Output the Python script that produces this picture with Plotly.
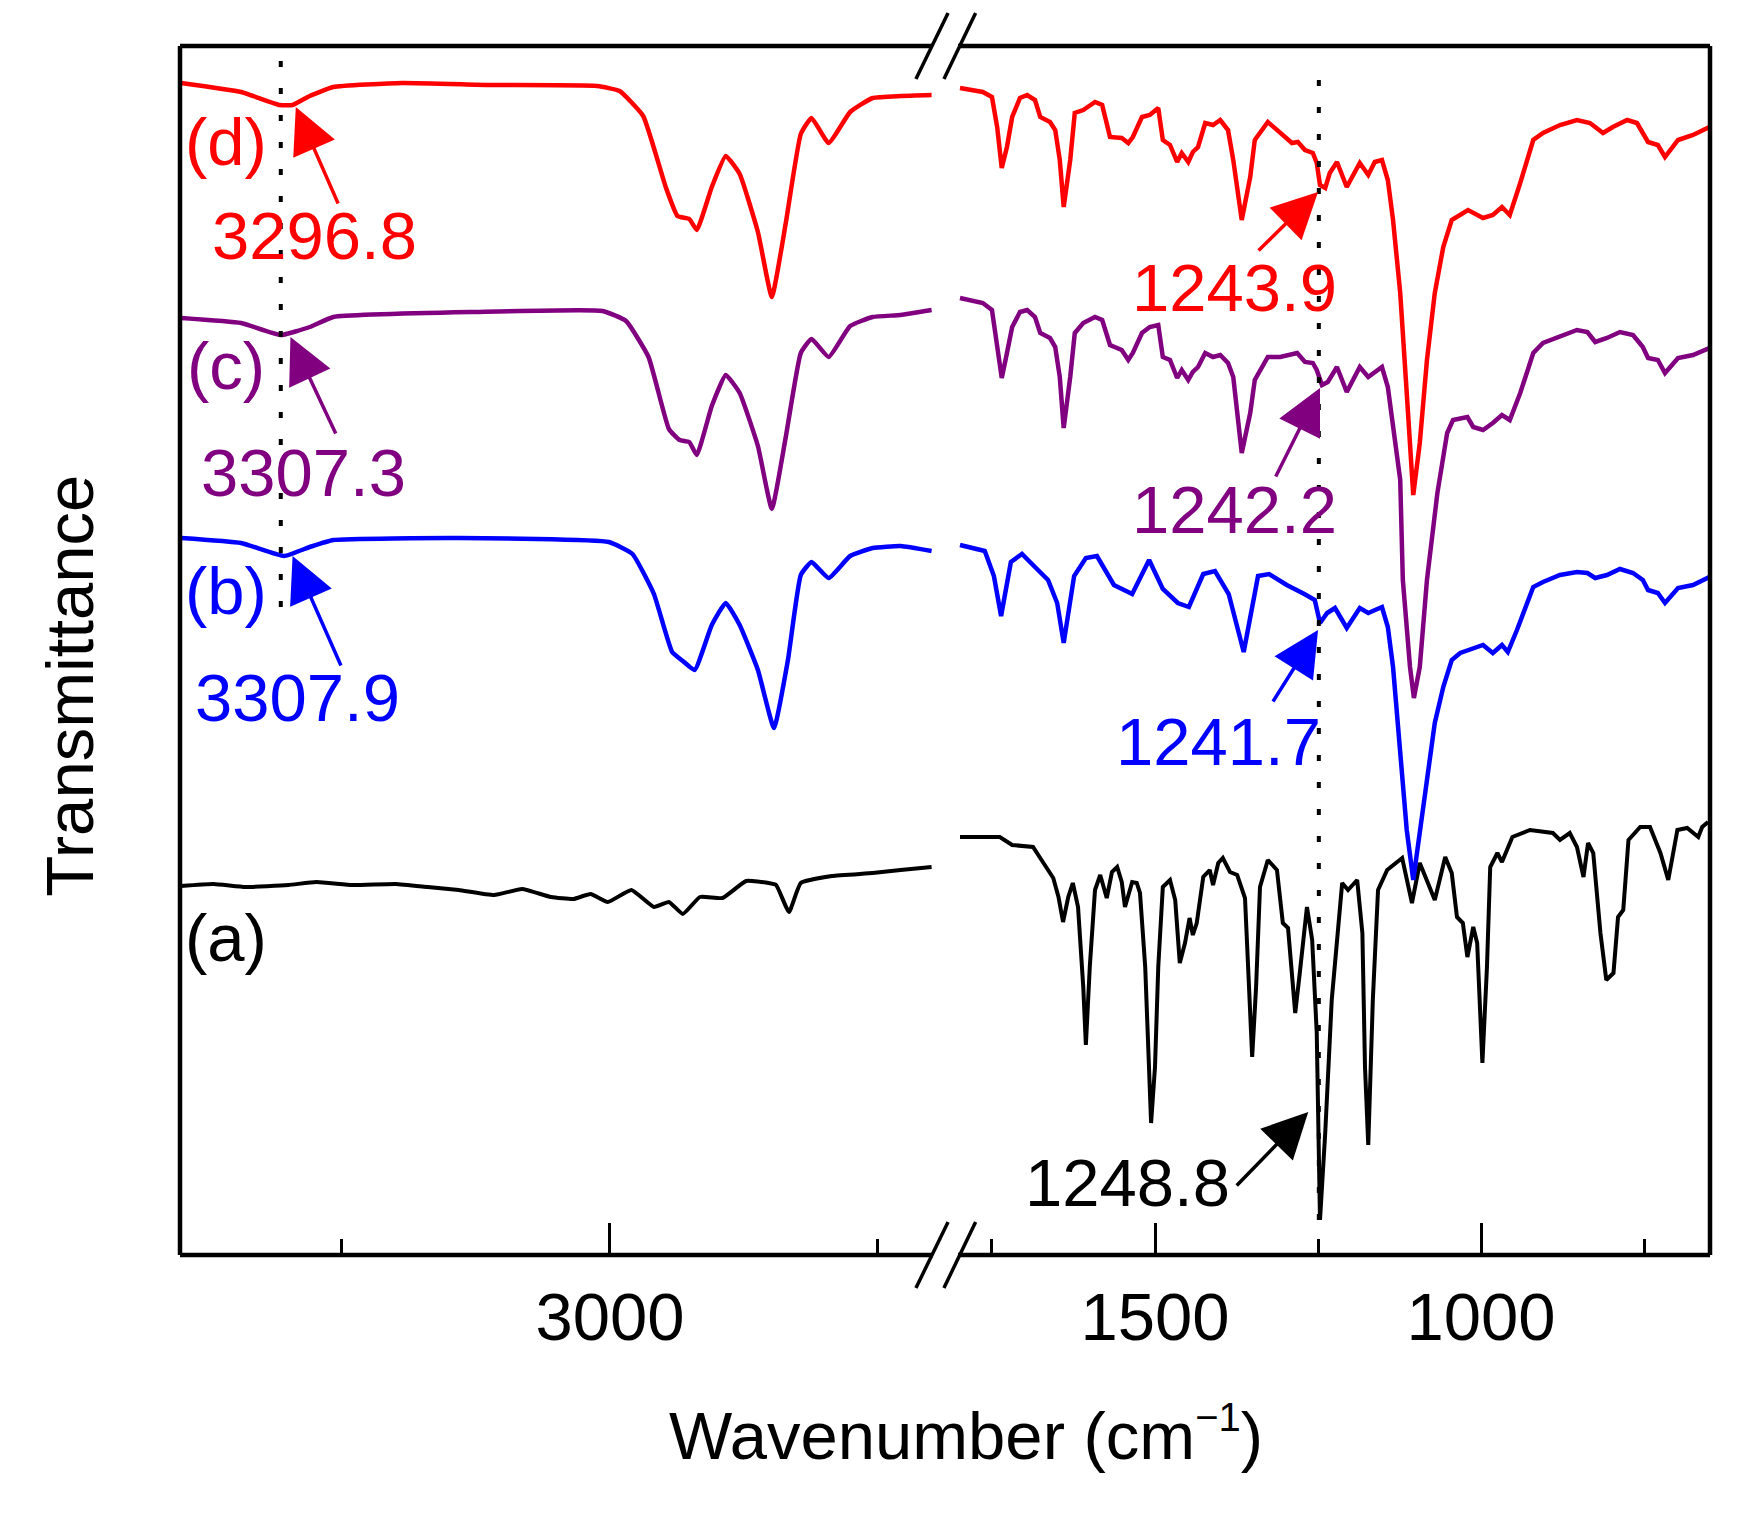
import plotly.graph_objects as go

# FTIR spectra; transmittance in arbitrary offset units
# high-wavenumber segment (3400-2700 cm-1)
WN_HI_D = [3400, 3344, 3308, 3296, 3280, 3258, 3194, 3114, 3012, 2991, 2969, 2948, 2937, 2926,
           2919, 2905, 2892, 2879, 2862, 2849, 2836, 2822, 2812, 2796, 2776, 2755, 2729, 2700]
T_HI_D = [117.2, 116.3, 115.0, 115.0, 115.9, 116.8, 117.2, 117.0, 116.9, 116.4, 113.9, 106.8, 103.9, 103.6,
          102.5, 106.8, 109.9, 108.1, 102.3, 95.8, 103.2, 112.1, 113.7, 111.2, 114.3, 115.7, 115.9, 116.0]

WN_HI_C = [3400, 3344, 3307, 3280, 3258, 3125, 3007, 2985, 2964, 2945, 2935, 2926, 2919,
           2905, 2892, 2879, 2862, 2849, 2836, 2822, 2812, 2796, 2776, 2755, 2729, 2700]
T_HI_C = [93.7, 93.2, 92.0, 92.8, 93.8, 94.3, 94.4, 93.4, 89.8, 82.6, 81.5, 81.3, 80.0,
          84.9, 88.0, 86.2, 80.9, 74.6, 81.8, 90.2, 91.6, 89.8, 92.9, 93.8, 94.0, 94.5]

WN_HI_B = [3400, 3344, 3304, 3280, 3258, 3141, 3001, 2979, 2959, 2942, 2932, 2921, 2905,
           2892, 2879, 2862, 2847, 2834, 2822, 2812, 2796, 2776, 2755, 2729, 2700]
T_HI_B = [71.7, 71.2, 69.9, 70.8, 71.5, 71.7, 71.3, 70.1, 66.1, 60.3, 59.4, 58.5, 63.0,
          65.2, 63.0, 58.5, 52.7, 59.5, 68.0, 69.3, 67.7, 69.9, 70.7, 70.9, 70.4]

WN_HI_A = [3400, 3370, 3340, 3300, 3274, 3240, 3200, 3170, 3141, 3108, 3082, 3055, 3034, 3018, 3002,
           2980, 2959, 2945, 2932, 2916, 2895, 2873, 2852, 2845, 2833, 2822, 2793, 2755, 2729, 2700]
T_HI_A = [36.9, 37.1, 36.8, 37.0, 37.3, 37.0, 37.1, 36.8, 36.5, 36.0, 36.6, 35.8, 35.6, 36.1, 35.3,
          36.5, 34.8, 35.3, 34.1, 35.8, 35.7, 37.4, 37.2, 37.0, 34.3, 37.2, 37.9, 38.2, 38.5, 38.8]

# low-wavenumber segment (1800-650 cm-1)
WN_LO_D = [1799, 1764, 1750, 1742, 1735, 1727, 1719, 1707, 1696, 1684, 1676, 1661, 1653, 1646, 1640,
           1630, 1623, 1610, 1592, 1581, 1569, 1551, 1541, 1534, 1520, 1508, 1495, 1488, 1477, 1466,
           1459, 1449, 1442, 1434, 1423, 1411, 1400, 1388, 1380, 1367, 1354, 1347, 1327, 1308, 1290,
           1281, 1270, 1258, 1252, 1247, 1239, 1232, 1221, 1206, 1186, 1173, 1163, 1152, 1143, 1135,
           1124, 1114, 1104, 1094, 1083, 1071, 1058, 1045, 1032, 1020, 997, 982, 968, 956, 940,
           920, 905, 879, 853, 833, 813, 798, 776, 761, 744, 729, 718, 698, 675, 650]
T_LO_D = [116.7, 116.3, 115.8, 112.8, 108.7, 110.8, 113.8, 115.7, 116.0, 115.5, 113.8, 113.3, 112.5, 109.5, 104.8,
          109.5, 114.2, 114.5, 115.3, 115.0, 111.8, 111.7, 111.2, 111.8, 113.8, 114.0, 114.7, 111.5, 111.0, 109.3,
          110.2, 109.3, 110.3, 110.8, 113.2, 113.0, 113.5, 112.5, 109.5, 103.5, 107.8, 111.5, 113.3, 112.2, 111.2,
          111.3, 110.5, 110.2, 109.2, 107.0, 106.7, 108.2, 109.3, 106.8, 109.2, 108.0, 109.3, 109.5, 107.5, 103.5,
          96.2, 86.2, 76.0, 81.2, 89.5, 96.2, 100.8, 103.5, 104.0, 104.5, 103.7, 104.0, 104.8, 104.0, 107.2,
          111.5, 112.2, 113.0, 113.5, 113.2, 112.2, 112.8, 113.5, 113.2, 111.3, 111.0, 109.8, 111.5, 112.0, 112.8]

WN_LO_C = [1799, 1764, 1750, 1742, 1735, 1727, 1719, 1707, 1696, 1684, 1676, 1661, 1653, 1646, 1640,
           1630, 1623, 1610, 1592, 1581, 1569, 1551, 1541, 1534, 1520, 1508, 1495, 1488, 1477, 1466,
           1459, 1449, 1442, 1434, 1423, 1411, 1400, 1388, 1380, 1367, 1354, 1347, 1327, 1308, 1282,
           1270, 1258, 1252, 1244, 1235, 1221, 1206, 1186, 1173, 1152, 1143, 1135, 1124, 1120, 1109,
           1103, 1094, 1083, 1071, 1067, 1052, 1043, 1021, 1012, 997, 982, 968, 956, 940, 920,
           905, 879, 853, 837, 825, 807, 787, 767, 752, 744, 729, 718, 698, 675, 650]
T_LO_C = [95.7, 95.2, 94.5, 91.2, 87.7, 90.2, 92.8, 94.3, 94.5, 93.8, 92.2, 91.7, 90.8, 87.8, 82.7,
          87.8, 92.2, 93.2, 93.8, 93.5, 91.0, 90.5, 89.5, 90.2, 92.2, 92.8, 93.0, 89.8, 89.5, 87.7,
          88.5, 87.5, 88.3, 88.8, 90.2, 89.8, 90.0, 89.2, 87.8, 80.2, 84.2, 87.5, 89.8, 89.8, 90.2,
          89.3, 89.2, 88.5, 87.0, 87.3, 88.8, 86.3, 88.8, 87.8, 88.8, 86.8, 82.8, 77.5, 67.5, 58.8,
          55.7, 58.8, 67.5, 74.5, 76.2, 82.2, 83.5, 83.8, 82.8, 82.5, 83.2, 84.0, 83.5, 86.2, 90.2,
          91.2, 91.8, 92.5, 92.3, 91.3, 91.7, 92.3, 92.0, 90.8, 89.7, 89.5, 88.2, 89.7, 90.0, 90.7]

WN_LO_B = [1799, 1761, 1747, 1736, 1721, 1704, 1681, 1664, 1650, 1640, 1624, 1606, 1589, 1563, 1535,
           1509, 1488, 1465, 1448, 1426, 1408, 1387, 1364, 1342, 1325, 1298, 1271, 1255, 1247, 1236,
           1224, 1206, 1186, 1173, 1152, 1143, 1135, 1124, 1114, 1104, 1094, 1083, 1071, 1058, 1045,
           1032, 1012, 997, 982, 968, 959, 945, 920, 905, 879, 853, 837, 825, 807, 787,
           767, 752, 744, 729, 718, 698, 675, 650]
T_LO_B = [71.0, 70.4, 67.9, 63.9, 69.3, 70.1, 68.6, 67.5, 65.2, 61.2, 67.9, 69.7, 69.9, 67.0, 66.1,
          69.5, 66.6, 65.2, 64.8, 68.1, 68.4, 66.1, 60.3, 67.9, 68.1, 67.0, 66.1, 65.5, 63.2, 64.2,
          64.7, 62.7, 64.7, 64.2, 64.8, 62.8, 58.8, 50.8, 42.5, 37.5, 42.5, 47.5, 53.2, 56.8, 59.5,
          60.2, 60.7, 61.0, 60.2, 61.0, 60.3, 62.5, 66.8, 67.3, 68.0, 68.3, 68.2, 67.7, 68.0, 68.6,
          68.2, 67.5, 66.5, 66.2, 65.2, 66.7, 67.0, 67.8]

WN_LO_A = [1799, 1738, 1719, 1687, 1676, 1656, 1648, 1641, 1633, 1626, 1618, 1610, 1606, 1600, 1592,
           1584, 1574, 1566, 1558, 1551, 1546, 1535, 1528, 1523, 1515, 1506, 1500, 1495, 1488, 1477,
           1469, 1462, 1454, 1447, 1442, 1436, 1426, 1416, 1411, 1403, 1396, 1385, 1374, 1362, 1351,
           1345, 1339, 1327, 1313, 1304, 1296, 1285, 1278, 1267, 1259, 1252, 1247, 1239, 1229, 1216,
           1213, 1204, 1190, 1182, 1178, 1173, 1166, 1158, 1144, 1121, 1106, 1094, 1071, 1055, 1045,
           1037, 1028, 1021, 1012, 1006, 998, 991, 986, 975, 968, 952, 925, 890, 879, 864,
           853, 843, 836, 828, 817, 808, 797, 790, 782, 774, 756, 741, 725, 713, 699,
           684, 667, 661, 652]
T_LO_A = [41.8, 41.8, 41.0, 40.8, 39.7, 37.7, 35.8, 33.3, 35.8, 37.2, 34.8, 26.8, 21.0, 28.8, 36.5,
          38.0, 35.7, 38.3, 38.8, 37.3, 34.8, 37.3, 37.2, 36.2, 28.8, 13.2, 18.8, 28.8, 36.8, 37.5,
          35.5, 29.2, 31.2, 33.7, 32.0, 33.2, 37.8, 38.5, 37.0, 39.2, 39.7, 38.3, 38.0, 35.7, 19.8,
          26.8, 36.8, 39.5, 38.5, 33.2, 32.7, 24.2, 28.2, 34.8, 31.5, 22.2, 3.5, 12.2, 25.5, 34.2,
          37.2, 36.5, 37.5, 32.2, 18.8, 11.0, 25.5, 36.5, 38.5, 39.7, 35.2, 39.2, 35.5, 39.8, 38.2,
          33.8, 33.2, 29.8, 32.8, 31.2, 19.2, 28.8, 38.8, 40.2, 39.3, 41.8, 42.5, 42.2, 41.5, 42.2,
          40.8, 37.8, 41.2, 40.2, 32.2, 27.5, 28.2, 33.8, 34.5, 41.5, 42.8, 42.8, 40.2, 37.5, 42.5,
          42.7, 41.8, 42.8, 43.3]

SERIES = [
    ("(a)", "#000000", WN_HI_A, T_HI_A, WN_LO_A, T_LO_A),
    ("(b)", "#0000FF", WN_HI_B, T_HI_B, WN_LO_B, T_LO_B),
    ("(c)", "#800080", WN_HI_C, T_HI_C, WN_LO_C, T_LO_C),
    ("(d)", "#FF0000", WN_HI_D, T_HI_D, WN_LO_D, T_LO_D),
]

# marked peaks: (text, colour, axis, tip wavenumber, tip transmittance, label x, label y, tail dx, tail dy)
PEAKS = [
    ("3296.8", "#FF0000", "x", 3293, 114.8, 0.088, 0.843, 43, 98),
    ("3307.3", "#800080", "x", 3298, 91.8, 0.081, 0.647, 46, 98),
    ("3307.9", "#0000FF", "x", 3296, 69.9, 0.0765, 0.4615, 49, 111),
    ("1243.9", "#FF0000", "x2", 1250, 106.3, 0.689, 0.800, -61, 60),
    ("1242.2", "#800080", "x2", 1247, 86.7, 0.689, 0.617, -45, 90),
    ("1241.7", "#0000FF", "x2", 1250, 62.5, 0.679, 0.425, -46, 73),
    ("1248.8", "#000000", "x2", 1265, 14.3, 0.619, 0.0596, -73, 75),
]
LABEL_POS = {"(a)": 0.263, "(b)": 0.550, "(c)": 0.736, "(d)": 0.921}

FONT = "Liberation Sans, Arial, Helvetica, sans-serif"
FS = 67

fig = go.Figure()
for name, color, wh, th, wl, tl in SERIES:
    lw = 4.0 if color == "#000000" else 4.5
    fig.add_trace(go.Scatter(x=wh, y=th, xaxis="x", yaxis="y", mode="lines",
                             line=dict(color=color, width=lw, shape="spline", smoothing=0.4),
                             showlegend=False, hoverinfo="skip"))
    fig.add_trace(go.Scatter(x=wl, y=tl, xaxis="x2", yaxis="y", mode="lines",
                             line=dict(color=color, width=lw),
                             showlegend=False, hoverinfo="skip"))

annotations = []
for name, color, *_ in SERIES:
    annotations.append(dict(text=name, x=0.03, y=LABEL_POS[name], xref="paper", yref="paper",
                            showarrow=False, xanchor="center", yanchor="middle",
                            font=dict(size=FS, color=color, family=FONT)))
for text, color, axis, px, py, lx, ly, dx, dy in PEAKS:
    annotations.append(dict(text=text, x=lx, y=ly, xref="paper", yref="paper", showarrow=False,
                            xanchor="center", yanchor="middle",
                            font=dict(size=FS, color=color, family=FONT)))
    annotations.append(dict(text="", x=px, y=py, xref=axis, yref="y", showarrow=True,
                            ax=dx, ay=dy, arrowhead=2, arrowsize=2.6, arrowwidth=3.5,
                            arrowcolor=color))
annotations.append(dict(text="Wavenumber (cm<sup><span style='font-size:40px'>\u22121</span></sup>)",
                        x=0.514, y=-0.148, xref="paper", yref="paper", showarrow=False,
                        xanchor="center", yanchor="middle",
                        font=dict(size=FS, color="#000000", family=FONT)))
annotations.append(dict(text="Transmittance", x=-0.0725, y=0.471, xref="paper", yref="paper",
                        showarrow=False, textangle=-90, xanchor="center", yanchor="middle",
                        font=dict(size=FS, color="#000000", family=FONT)))

frame = dict(color="#000000", width=4.5)
shapes = [
    dict(type="line", xref="paper", yref="paper", x0=0, x1=0, y0=0, y1=1, line=frame),
    dict(type="line", xref="paper", yref="paper", x0=1, x1=1, y0=0, y1=1, line=frame),
    dict(type="line", xref="paper", yref="paper", x0=0, x1=0.492, y0=1, y1=1, line=frame),
    dict(type="line", xref="paper", yref="paper", x0=0.5085, x1=1, y0=1, y1=1, line=frame),
    dict(type="line", xref="paper", yref="paper", x0=0, x1=0.492, y0=0, y1=0, line=frame),
    dict(type="line", xref="paper", yref="paper", x0=0.5085, x1=1, y0=0, y1=0, line=frame),
]
# axis-break marks
brk = dict(color="#000000", width=3.5)
for yc in (0, 1):
    for x0, x1 in ((0.481, 0.502), (0.4993, 0.520)):
        shapes.append(dict(type="line", xref="paper", yref="paper", x0=x0, x1=x1,
                           y0=yc - 0.0273, y1=yc + 0.0273, line=brk))
# guide lines
dots = dict(color="#000000", width=4, dash="6px,21px")
shapes.append(dict(type="line", xref="x", yref="y", x0=3307, x1=3307, y0=64.8, y1=120.4, line=dots))
shapes.append(dict(type="line", xref="x2", yref="y", x0=1248.8, x1=1248.8, y0=3.5, y1=119.0, line=dots))

tick_common = dict(ticks="inside", ticklen=32, tickwidth=3, tickcolor="#000000",
                   tickfont=dict(size=FS, color="#000000", family=FONT), ticklabelstandoff=17,
                   showgrid=False, zeroline=False, showline=False, dtick=500, tick0=0,
                   minor=dict(ticks="inside", ticklen=16, tickwidth=3, tickcolor="#000000",
                              dtick=250, tick0=0, showgrid=False))

# page body keeps an 8px margin, so the figure is sized to fit inside it
fig.update_layout(
    width=1735, height=1506,
    margin=dict(l=172, r=33, t=38, b=259),
    paper_bgcolor="white", plot_bgcolor="white",
    font=dict(family=FONT, color="#000000"),
    xaxis=dict(domain=[0, 0.5], range=[3401, 2687.5], anchor="y", **tick_common),
    xaxis2=dict(domain=[0.5, 1], range=[1822, 649], anchor="y", **tick_common),
    yaxis=dict(range=[0, 120.9], showticklabels=False, ticks="", showgrid=False,
               zeroline=False, showline=False),
    annotations=annotations,
    shapes=shapes,
)

fig.write_html("out.html")
